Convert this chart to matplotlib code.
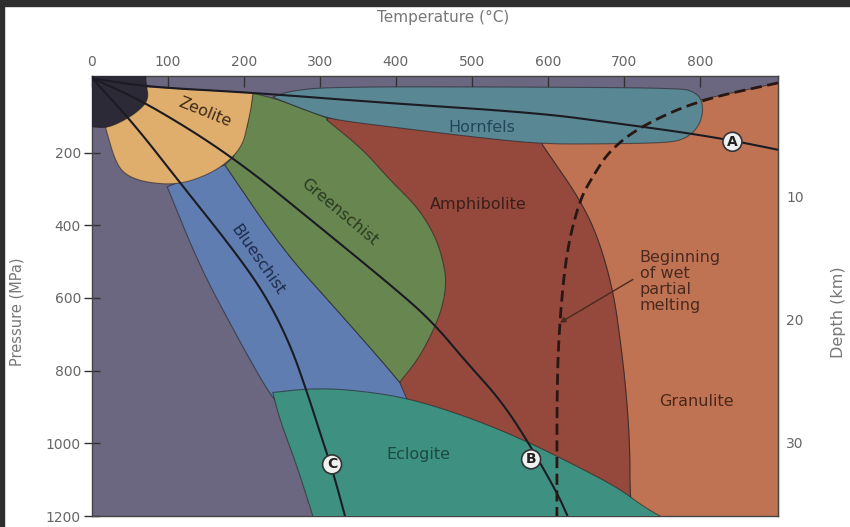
import numpy as np
import matplotlib.pyplot as plt
from matplotlib.patches import Polygon, Rectangle

# --- boundaries, as (temperature degC, pressure MPa) ---
geotherm_a = [(0, -5), (72, 19), (212, 35), (379, 62), (589, 91), (686, 118),
              (774, 143), (839, 165), (903, 192)]
geotherm_b = [(0, -5), (72, 63), (186, 212), (300, 405), (405, 585), (449, 668),
              (493, 777), (537, 879), (572, 989), (612, 1135), (626, 1200)]
geotherm_c = [(0, -5), (54, 118), (116, 283), (186, 467), (228, 591), (261, 728),
              (284, 865), (303, 989), (317, 1077), (333, 1200)]
wet_melting = [(903, 8), (800, 55), (725, 124), (682, 192), (659, 266), (642, 330),
               (625, 467), (616, 651), (612, 832), (612, 1200)]

dark_edge = [(71, -20), (71, 8), (75, 55), (58, 91), (36, 118), (18, 132), (0, 129)]
zeolite_top = [(71, 19), (142, 27), (212, 35)]
zeolite_edge = [(212, 35), (209, 82), (204, 129), (199, 173), (186, 212), (159, 255),
                (116, 288), (72, 283), (43, 261), (30, 220), (18, 132)]
hornfels_edge = [(238, 47), (261, 30), (313, 19), (537, 19), (774, 22), (793, 33),
                 (803, 55), (804, 96), (797, 132), (783, 159), (761, 173), (668, 176),
                 (593, 176), (511, 159), (405, 132), (339, 115), (309, 104),
                 (274, 77), (247, 55), (238, 47)]
green_red = [(309, 110), (357, 192), (392, 275), (428, 349), (451, 426), (462, 495),
             (467, 563), (458, 651), (432, 761), (405, 832)]
green_blue = [(175, 234), (251, 467), (322, 632), (383, 777), (405, 832)]
blue_left = [(99, 294), (142, 514), (191, 706), (230, 852), (250, 905)]
amph_gran = [(593, 179), (609, 228), (638, 316), (664, 420), (686, 577), (697, 742),
             (704, 879), (708, 1016), (708, 1126), (710, 1170)]
eclogite_top = [(238, 860), (287, 849), (339, 852), (414, 874), (493, 926), (567, 989),
                (646, 1071), (695, 1126), (725, 1173), (760, 1215)]
eclogite_left = [(238, 860), (247, 934), (270, 1063), (293, 1215)]

facies_labels = ["Zeolite", "Hornfels", "Greenschist", "Blueschist",
                 "Amphibolite", "Granulite", "Eclogite"]
label_pos = [(149, 88), (513, 130), (326, 363), (218, 495), (509, 343), (796, 885), (429, 1030)]
label_rot = [-22, 0, -40, -55, 0, 0, 0]
label_col = ["#3d2b1a", "#23465a", "#2c3a22", "#1e2c4a", "#3a1e1a", "#4a2618", "#1d4843"]

path_names = ["A", "B", "C"]
path_pos = [(843, 170), (578, 1044), (316, 1058)]

t_ticks = [0, 100, 200, 300, 400, 500, 600, 700, 800]
p_ticks = [200, 400, 600, 800, 1000, 1200]
depth_ticks = [10, 20, 30]


def smooth(pts, n=3):
    pts = np.asarray(pts, float)
    for _ in range(n):
        q = 0.75 * pts[:-1] + 0.25 * pts[1:]
        r = 0.25 * pts[:-1] + 0.75 * pts[1:]
        new = np.empty((2 * len(q), 2))
        new[0::2] = q
        new[1::2] = r
        pts = np.vstack([pts[0], new, pts[-1]])
    return pts


def region(ax, parts, color, z):
    # long boundary pieces get smoothed, short corner pieces stay sharp
    pts = np.vstack([smooth(p) if len(p) > 3 else np.asarray(p, float) for p in parts])
    ax.add_patch(Polygon(pts, closed=True, fc=color, ec=(0.12, 0.1, 0.12, 0.55),
                         lw=0.8, zorder=z))


fig = plt.figure(figsize=(8.5, 5.27), dpi=100)
ax = fig.add_axes([92 / 850, 11 / 527, 686 / 850, 440 / 527])
ax.set_facecolor("#6c6780")
ax.set_xlim(0, 903)
ax.set_ylim(1200, -11)

# granulite (drawn first, partly covered)
region(ax, [[(560, 140), (800, 55), (903, 8)], [(915, 8), (915, 1215), (720, 1215)],
            amph_gran[::-1], [(560, 160)]], "#bf7352", 1)
# amphibolite
region(ax, [[(309, 104), (405, 125), (511, 150), (593, 165)], amph_gran,
            [(414, 905), (405, 832)]], "#94493c", 2)
# blueschist
region(ax, [blue_left, [(420, 905)], green_blue[::-1], [(150, 250)]], "#5f7db0", 3)
# greenschist
region(ax, [[(212, 36), (247, 55), (274, 77), (309, 104)], green_red,
            green_blue[::-1], [(186, 212), (204, 129), (212, 36)]], "#68864f", 4)
# eclogite
region(ax, [eclogite_top, [(293, 1215)], eclogite_left[::-1]], "#3e9180", 5)
# hornfels
region(ax, [hornfels_edge], "#5a8794", 6)
# zeolite
region(ax, [zeolite_top, zeolite_edge, [(40, 60)]], "#dfad6c", 7)
# low-grade apex
region(ax, [[(0, -20)], dark_edge], "#2d2a37", 8)

for g in (geotherm_a, geotherm_b, geotherm_c):
    s = smooth(g)
    ax.plot(s[:, 0], s[:, 1], color="#1b1b24", lw=1.5, zorder=9, solid_capstyle="butt")
s = smooth(wet_melting)
ax.plot(s[:, 0], s[:, 1], color="#2a1612", lw=2, dashes=(4, 2), zorder=9)

for name, (t, p), rot, c in zip(facies_labels, label_pos, label_rot, label_col):
    ax.text(t, p, name, rotation=rot, rotation_mode="anchor", ha="center", va="center",
            fontsize=11.5, color=c, zorder=10)

ax.text(721, 555, "Beginning\nof wet\npartial\nmelting", ha="left", va="center",
        fontsize=11.5, color="#4a2a20", linespacing=1.1, zorder=10)
ax.annotate("", xy=(616, 668), xytext=(712, 549), zorder=10,
            arrowprops=dict(arrowstyle="-|>", color="#4a2a20", lw=1, mutation_scale=8,
                            shrinkA=0, shrinkB=0))

for name, (t, p) in zip(path_names, path_pos):
    ax.text(t, p, name, ha="center", va="center", fontsize=10, fontweight="bold",
            color="#222222", zorder=11,
            bbox=dict(boxstyle="circle,pad=0.18", fc="#f0f0f0", ec="#333333", lw=1.2))

# axes
ax.xaxis.tick_top()
ax.set_xticks(t_ticks)
ax.set_yticks(p_ticks)
ax.tick_params(axis="x", direction="in", length=8, width=1, color="#333333",
               labelsize=10, labelcolor="#666666", pad=5)
ax.tick_params(axis="y", direction="inout", length=12, width=1, color="#333333",
               labelsize=10, labelcolor="#666666", pad=2)
ax.xaxis.set_label_position("top")
ax.set_xlabel("Temperature (°C)", fontsize=11, color="#777777")
ax.xaxis.set_label_coords(0.512, 1.123)
ax.set_ylabel("Pressure (MPa)", fontsize=10.5, color="#777777")
ax.yaxis.set_label_coords(-0.099, 0.464)
for sp in ax.spines.values():
    sp.set_color("#444444")
    sp.set_linewidth(1)

sec = ax.secondary_yaxis("right", functions=(lambda p: (p + 17) / 33.8,
                                             lambda d: d * 33.8 - 17))
sec.set_yticks(depth_ticks)
sec.tick_params(direction="in", length=11, width=1, color="#333333",
                labelsize=10, labelcolor="#666666", pad=6)
sec.set_ylabel("Depth (km)", fontsize=11.5, color="#777777")
sec.yaxis.set_label_coords(1.077, 0.464, transform=ax.transAxes)
sec.spines["right"].set_color("#444444")

# dark frame of the screenshot
fig.add_artist(Rectangle((0, 1 - 6 / 527), 1, 6 / 527, transform=fig.transFigure,
                         color="#2e2e2e", zorder=20))
fig.add_artist(Rectangle((0, 0), 4 / 850, 1, transform=fig.transFigure,
                         color="#2e2e2e", zorder=20))

fig.savefig("out.png", dpi=100)
